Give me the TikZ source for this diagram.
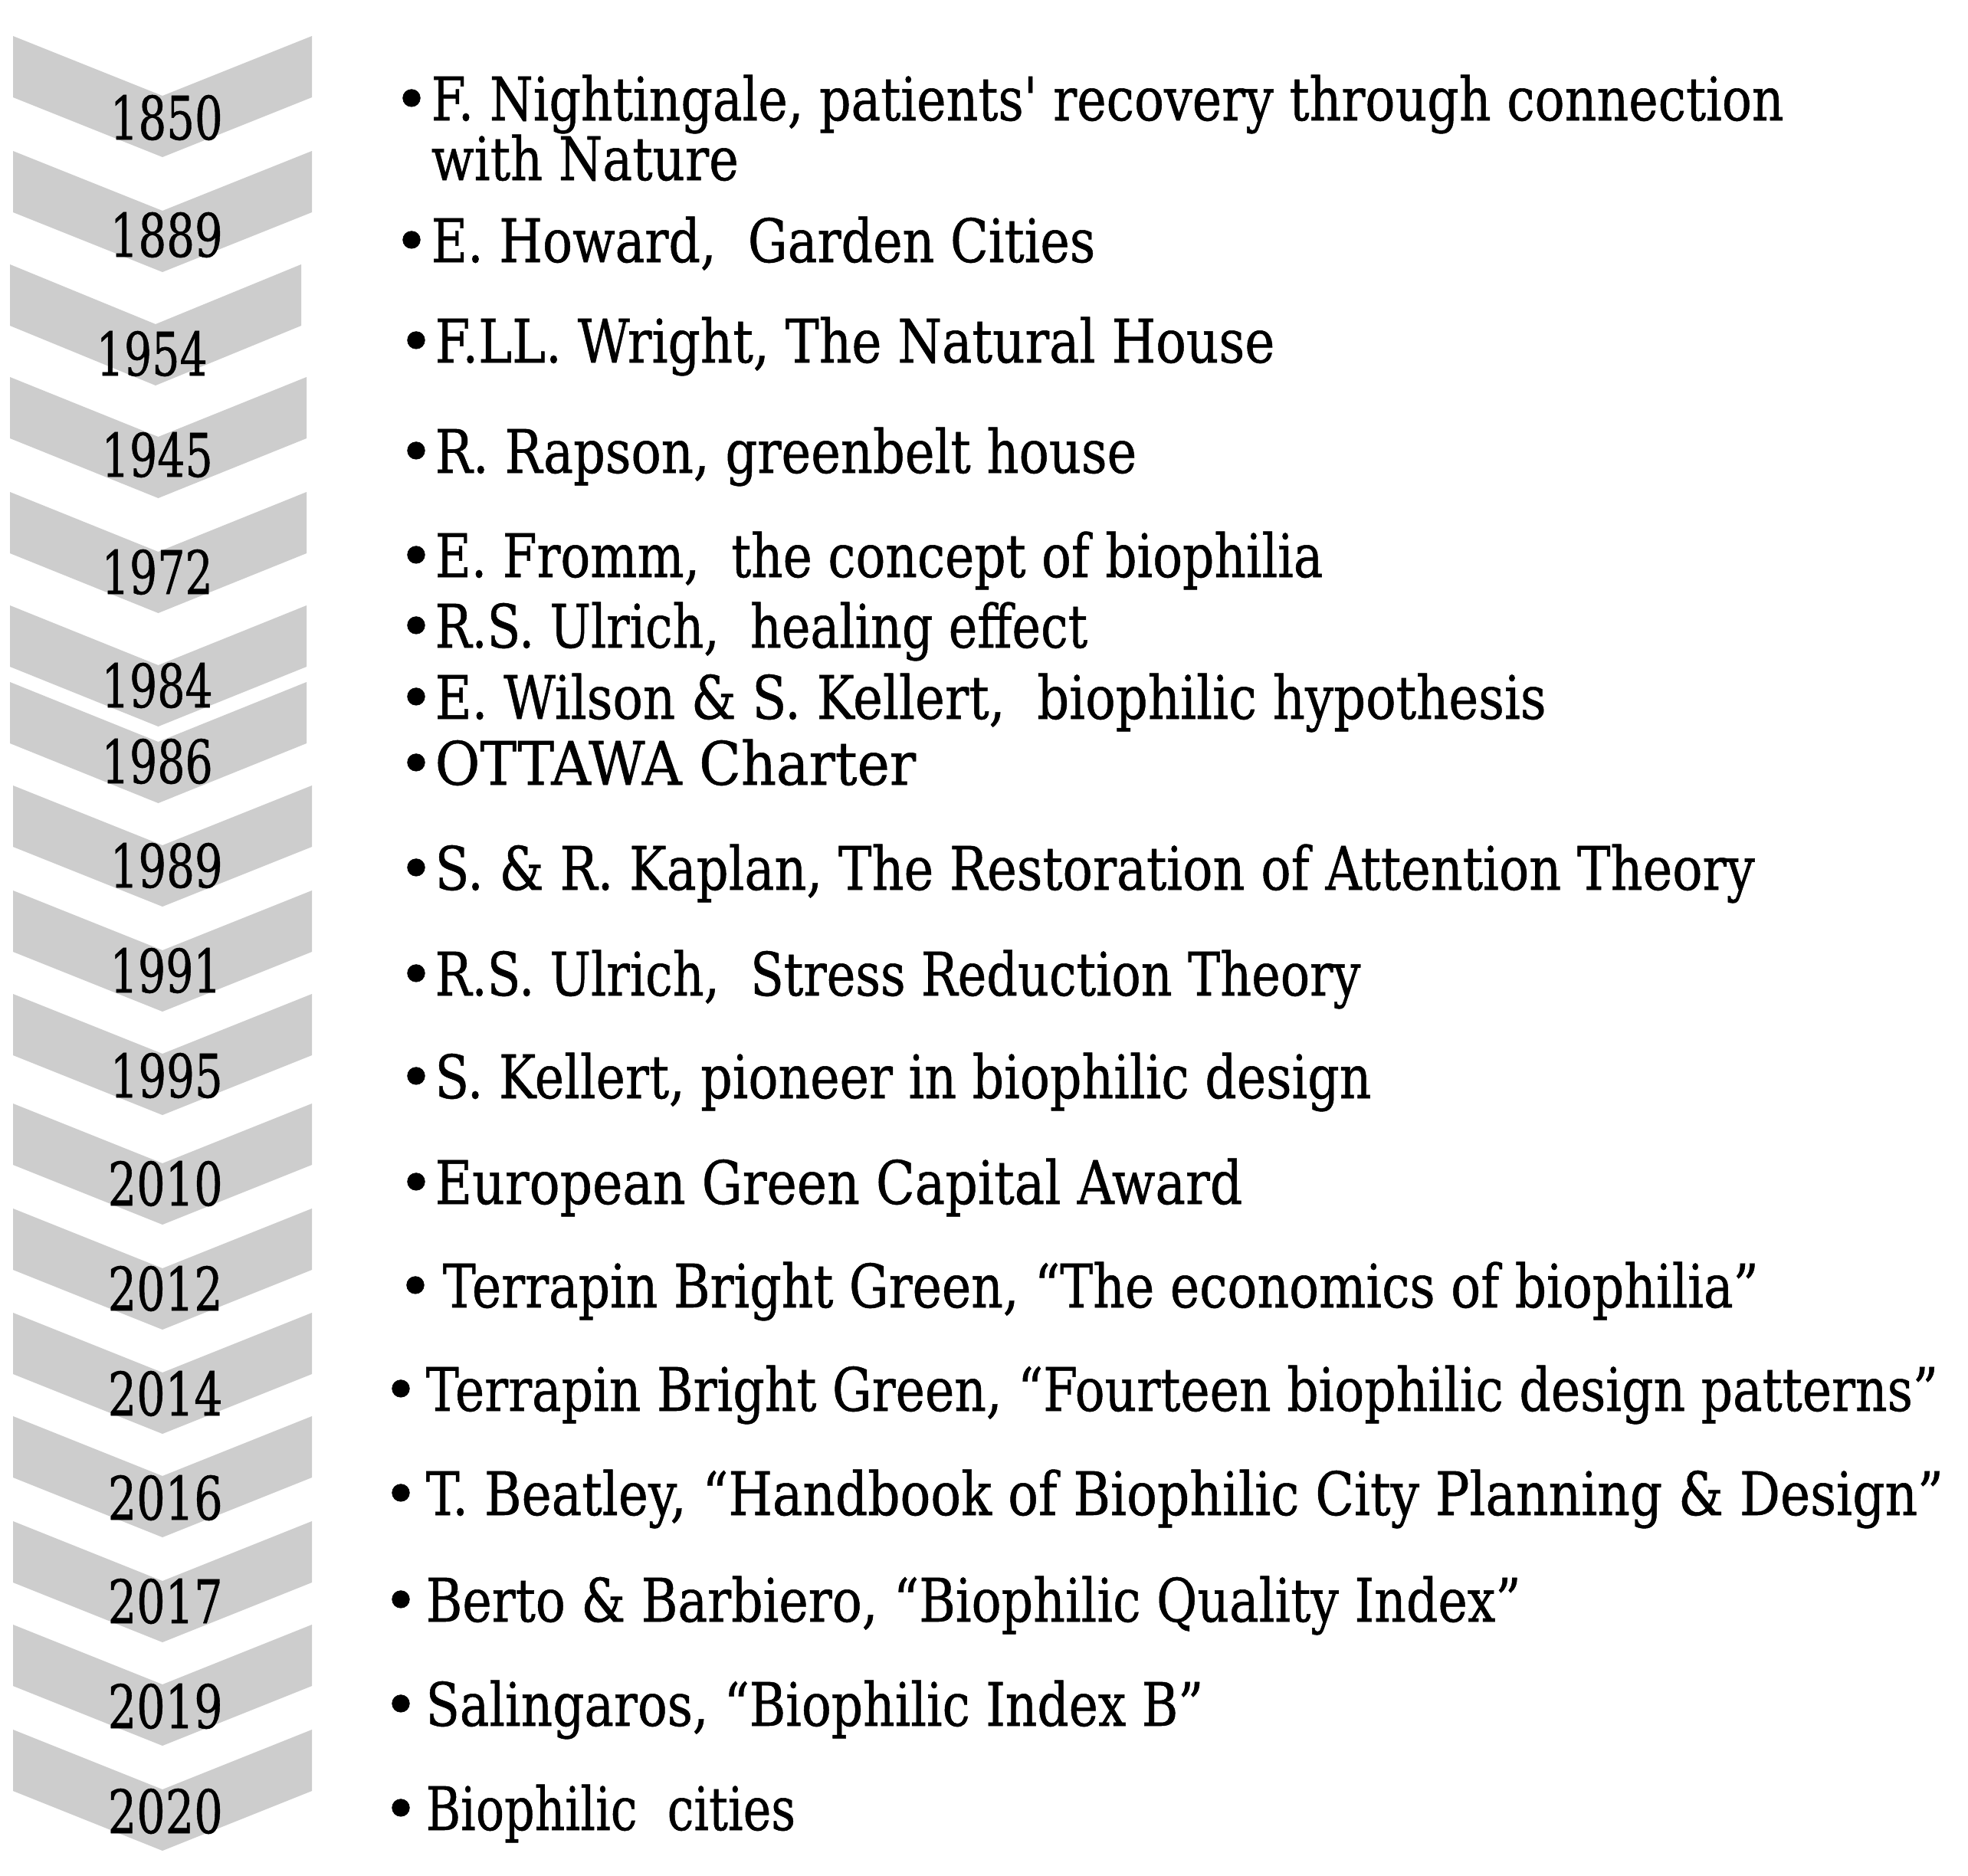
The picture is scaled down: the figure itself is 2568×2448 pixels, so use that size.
\documentclass[tikz,border=0pt]{standalone}
\usepackage{fontspec}
\setmainfont{DejaVu Serif}
\newfontfamily\itemfont{DejaVu Serif}[FakeBold=0.7]
\definecolor{chev}{RGB}{205,205,205}
\newcommand{\fitw}[2]{\resizebox{#1}{\height}{#2}}
\newcommand{\chevshape}[3]{%
  \fill[chevron] (#2,#1) -- ({(#2+#3)/2},#1+78) -- (#3,#1) -- (#3,#1+80)
    -- ({(#2+#3)/2},#1+158) -- (#2,#1+80) -- cycle;}
\tikzset{
  chevron/.style={fill=chev, draw=none},
  basefont/.style={font=\itemfont\fontsize{22.25pt}{26pt}\selectfont},
  yearlbl/.style={basefont, anchor=base west, inner sep=0pt, text=black},
  itemtxt/.style={basefont, anchor=base west, inner sep=0pt, text=black},
  bul/.style={basefont, anchor=base, inner sep=0pt, text=black},
}
\begin{document}
\begin{tikzpicture}[x=0.01cm, y=-0.01cm]
\useasboundingbox (0,0) rectangle (2568,2448);
\fill[white] (0,0) rectangle (2568,2448);
% chevrons: top, left, right
\chevshape{47}{17}{407}
\chevshape{197}{17}{407}
\chevshape{345}{13}{393}
\chevshape{492}{13}{400}
\chevshape{642}{13}{400}
\chevshape{790}{13}{400}
\chevshape{890}{13}{400}
\chevshape{1025}{17}{407}
\chevshape{1162}{17}{407}
\chevshape{1297}{17}{407}
\chevshape{1440}{17}{407}
\chevshape{1577}{17}{407}
\chevshape{1713}{17}{407}
\chevshape{1848}{17}{407}
\chevshape{1985}{17}{407}
\chevshape{2120}{17}{407}
\chevshape{2257}{17}{407}
% years
\node[yearlbl] (y1)  at (143,182)  {\fitw{1.47cm}{1850}};
\node[yearlbl] (y2)  at (143,335)  {\fitw{1.47cm}{1889}};
\node[yearlbl] (y3)  at (125,490)  {\fitw{1.45cm}{1954}};
\node[yearlbl] (y4)  at (132,622)  {\fitw{1.45cm}{1945}};
\node[yearlbl] (y5)  at (132,775)  {\fitw{1.45cm}{1972}};
\node[yearlbl] (y6)  at (132,923)  {\fitw{1.45cm}{1984}};
\node[yearlbl] (y7)  at (132,1022) {\fitw{1.45cm}{1986}};
\node[yearlbl] (y8)  at (143,1158) {\fitw{1.47cm}{1989}};
\node[yearlbl] (y9)  at (143,1295) {\fitw{1.45cm}{1991}};
\node[yearlbl] (y10) at (143,1432) {\fitw{1.47cm}{1995}};
\node[yearlbl] (y11) at (140,1573) {\fitw{1.50cm}{2010}};
\node[yearlbl] (y12) at (140,1710) {\fitw{1.50cm}{2012}};
\node[yearlbl] (y13) at (140,1847) {\fitw{1.50cm}{2014}};
\node[yearlbl] (y14) at (140,1983) {\fitw{1.50cm}{2016}};
\node[yearlbl] (y15) at (140,2118) {\fitw{1.50cm}{2017}};
\node[yearlbl] (y16) at (140,2255) {\fitw{1.50cm}{2019}};
\node[yearlbl] (y17) at (140,2392) {\fitw{1.50cm}{2020}};
% bullets
\node[bul] (b1)  at (537,157)  {•};
\node[bul] (b3)  at (537,342)  {•};
\node[bul] (b4)  at (543,473)  {•};
\node[bul] (b5)  at (543,617)  {•};
\node[bul] (b6)  at (543,753)  {•};
\node[bul] (b7)  at (543,845)  {•};
\node[bul] (b8)  at (543,938)  {•};
\node[bul] (b9)  at (543,1024) {•};
\node[bul] (b10) at (543,1161) {•};
\node[bul] (b11) at (543,1299) {•};
\node[bul] (b12) at (543,1433) {•};
\node[bul] (b13) at (543,1571) {•};
\node[bul] (b14) at (542,1706) {•};
\node[bul] (b15) at (523,1841) {•};
\node[bul] (b16) at (523,1977) {•};
\node[bul] (b17) at (523,2116) {•};
\node[bul] (b18) at (523,2252) {•};
\node[bul] (b19) at (523,2388) {•};
% items
\node[itemtxt] (t1)  at (562,157)  {\fitw{17.64cm}{F. Nightingale, patients\textquotesingle\ recovery through connection}};
\node[itemtxt] (t2)  at (562,235)  {\fitw{4.01cm}{with Nature}};
\node[itemtxt] (t3)  at (562,342)  {\fitw{8.66cm}{E. Howard,~ Garden Cities}};
\node[itemtxt] (t4)  at (567,473)  {\fitw{10.95cm}{F.LL. Wright, The Natural House}};
\node[itemtxt] (t5)  at (567,617)  {\fitw{9.15cm}{R. Rapson, greenbelt house}};
\node[itemtxt] (t6)  at (567,753)  {\fitw{11.58cm}{E. Fromm,~ the concept of biophilia}};
\node[itemtxt] (t7)  at (567,845)  {\fitw{8.51cm}{R.S. Ulrich,~ healing effect}};
\node[itemtxt] (t8)  at (567,938)  {\fitw{14.49cm}{E. Wilson \& S. Kellert,~ biophilic hypothesis}};
\node[itemtxt] (t9)  at (567,1024) {\fitw{6.27cm}{OTTAWA Charter}};
\node[itemtxt] (t10) at (567,1161) {\fitw{17.21cm}{S. \& R. Kaplan, The Restoration of Attention Theory}};
\node[itemtxt] (t11) at (567,1299) {\fitw{12.07cm}{R.S. Ulrich,~ Stress Reduction Theory}};
\node[itemtxt] (t12) at (567,1433) {\fitw{12.21cm}{S. Kellert, pioneer in biophilic design}};
\node[itemtxt] (t13) at (567,1571) {\fitw{10.53cm}{European Green Capital Award}};
\node[itemtxt] (t14) at (577,1706) {\fitw{17.16cm}{Terrapin Bright Green, “The economics of biophilia”}};
\node[itemtxt] (t15) at (555,1841) {\fitw{19.72cm}{Terrapin Bright Green, “Fourteen biophilic design patterns”}};
\node[itemtxt] (t16) at (555,1977) {\fitw{19.79cm}{T. Beatley, “Handbook of Biophilic City Planning \& Design”}};
\node[itemtxt] (t17) at (555,2116) {\fitw{14.28cm}{Berto \& Barbiero, “Biophilic Quality Index”}};
\node[itemtxt] (t18) at (555,2252) {\fitw{10.14cm}{Salingaros, “Biophilic Index B”}};
\node[itemtxt] (t19) at (555,2388) {\fitw{4.82cm}{Biophilic~ cities}};
\end{tikzpicture}
\end{document}
